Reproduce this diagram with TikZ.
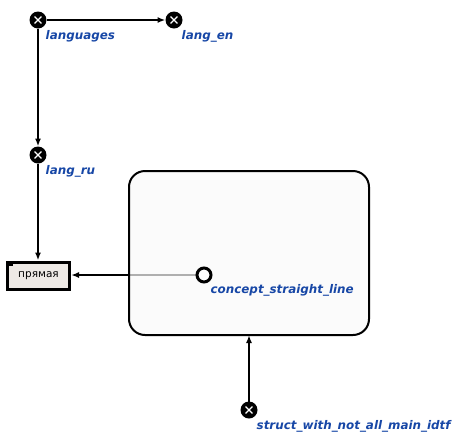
\documentclass[tikz,border=0pt]{standalone}
\usepackage{fontspec}
\setmainfont{DejaVu Sans}
\usetikzlibrary{arrows.meta}
\usetikzlibrary{calc}
\usetikzlibrary{backgrounds}
\definecolor{idtfblue}{HTML}{1747A6}
\definecolor{linkfill}{HTML}{EEEAE6}
\definecolor{contourfill}{HTML}{FAFAFA}

\begin{document}
\begin{tikzpicture}[x=1pt, y=-1pt, >={Latex[length=8pt,width=6pt]},
  const/.style={circle, fill=black, minimum size=17pt, inner sep=0pt, outer sep=0pt,
    path picture={\draw[white, line width=1.3pt]
      ($(path picture bounding box.center)+(-3.4pt,-3.4pt)$) -- ($(path picture bounding box.center)+(3.4pt,3.4pt)$)
      ($(path picture bounding box.center)+(-3.4pt,3.4pt)$) -- ($(path picture bounding box.center)+(3.4pt,-3.4pt)$);}},
  concept/.style={circle, draw, line width=3pt, fill=white, minimum size=14pt, inner sep=0pt, outer sep=0pt},
  idtf/.style={font=\bfseries\itshape\fontsize{11.9}{13}\selectfont, text=idtfblue,
    anchor=north west, inner sep=0pt, xshift=1.5pt, yshift=-4.5pt},
  link/.style={draw, line width=3pt, fill=linkfill, minimum width=62pt, minimum height=27pt,
    inner sep=0pt, font=\fontsize{10.5}{12}\selectfont},
  arc/.style={->, line width=2pt}]

\useasboundingbox (0,0) rectangle (460,440);

\foreach \n/\x/\y/\t in {languages/38/20/languages, lang-en/174/20/lang\_en,
    lang-ru/38/155/lang\_ru, struct/249/410/struct\_with\_not\_all\_main\_idtf}
  \node [const, label={[idtf]below right:\t}] (\n) at (\x,\y) {};

\node [link] (pryamaya) at (38.5,275.5) {прямая};
\fill (pryamaya.north west) ++(1.5pt,-1.5pt) rectangle ++(5pt,-4pt);

% контур
\draw [line width=2pt, fill=contourfill, fill opacity=0.7, rounded corners=16pt]
  (129,171) rectangle (369,335);
\coordinate (contour-south) at (249,335);

\node [concept, label={[idtf]below right:concept\_straight\_line}] (concept-line) at (204,275) {};

\begin{scope}[on background layer]
  \draw [arc] (concept-line) -- (concept-line -| pryamaya.east);
\end{scope}

\draw [arc] (languages) -- (lang-en);
\draw [arc] (languages) -- (lang-ru);
\draw [arc] (lang-ru) -- (lang-ru |- pryamaya.north);
\draw [arc] (struct) -- (contour-south);

\end{tikzpicture}
\end{document}
